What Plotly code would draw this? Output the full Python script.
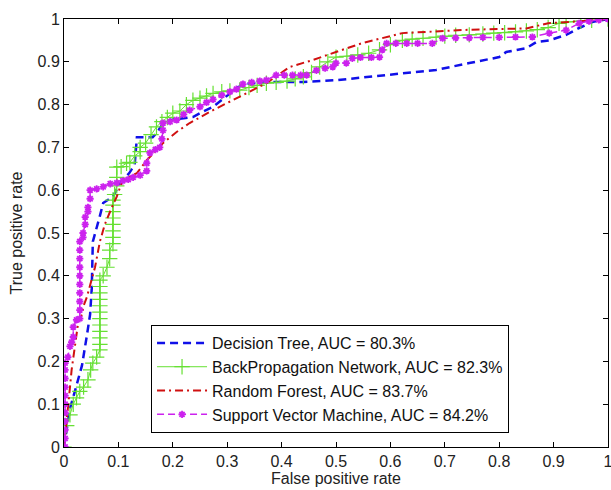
import plotly.graph_objects as go

# ---------------- data ----------------
tick_vals = [0, 0.1, 0.2, 0.3, 0.4, 0.5, 0.6, 0.7, 0.8, 0.9, 1]
tick_text = ["0", "0.1", "0.2", "0.3", "0.4", "0.5", "0.6", "0.7", "0.8", "0.9", "1"]

series_names = [
    "Decision Tree, AUC = 80.3%",
    "BackPropagation Network, AUC = 82.3%",
    "Random Forest, AUC = 83.7%",
    "Support Vector Machine, AUC = 84.2%",
]

dt_fpr = [0, 0.005, 0.011, 0.02, 0.033, 0.042, 0.048, 0.051, 0.053, 0.066, 0.072, 0.09,
          0.103, 0.12, 0.13, 0.134, 0.163, 0.172, 0.182, 0.2, 0.237, 0.25, 0.274, 0.317,
          0.33, 0.378, 0.44, 0.5, 0.561, 0.622, 0.684, 0.745, 0.80, 0.813, 0.85, 0.868,
          0.892, 0.923, 0.947, 0.971, 1]
dt_tpr = [0, 0.04, 0.09, 0.13, 0.19, 0.26, 0.31, 0.37, 0.48, 0.54, 0.57, 0.585,
          0.617, 0.64, 0.66, 0.724, 0.724, 0.736, 0.757, 0.765, 0.771, 0.78, 0.795, 0.838,
          0.848, 0.853, 0.853, 0.857, 0.865, 0.874, 0.881, 0.897, 0.911, 0.923, 0.932, 0.946,
          0.95, 0.963, 0.979, 0.993, 1]

bp_fpr = [0, 0.005, 0.011, 0.017, 0.023, 0.029, 0.036, 0.044, 0.049, 0.053, 0.06, 0.066,
          0.066, 0.066, 0.066, 0.066, 0.066, 0.066, 0.066, 0.066, 0.066, 0.066, 0.066,
          0.072, 0.079, 0.084, 0.084,
          0.09, 0.09, 0.09, 0.09, 0.09, 0.09, 0.09, 0.09,
          0.093, 0.097, 0.097, 0.097, 0.105, 0.115, 0.121, 0.13, 0.14, 0.14, 0.15, 0.16,
          0.17, 0.18, 0.19, 0.2, 0.213, 0.225, 0.237, 0.25, 0.262, 0.274, 0.29, 0.305,
          0.323, 0.34, 0.355, 0.372, 0.39, 0.41, 0.425, 0.44, 0.455, 0.47, 0.485, 0.5,
          0.52, 0.54, 0.56, 0.58, 0.6, 0.622, 0.64, 0.66, 0.684, 0.7, 0.72, 0.745, 0.77,
          0.79, 0.81, 0.83, 0.85, 0.87, 0.89, 0.91, 0.923, 0.95, 0.97, 1]
bp_tpr = [0, 0.05, 0.075, 0.1, 0.115, 0.13, 0.14, 0.157, 0.18, 0.196, 0.21, 0.227,
          0.24, 0.255, 0.27, 0.285, 0.3, 0.315, 0.33, 0.345, 0.36, 0.375, 0.39,
          0.4, 0.42, 0.44, 0.46,
          0.475, 0.49, 0.505, 0.52, 0.535, 0.55, 0.565, 0.577,
          0.59, 0.61, 0.63, 0.654, 0.655, 0.663, 0.665, 0.68, 0.69, 0.7, 0.71, 0.73,
          0.748, 0.76, 0.77, 0.78, 0.785, 0.8, 0.81, 0.815, 0.82, 0.826, 0.83, 0.832,
          0.834, 0.84, 0.845, 0.85, 0.852, 0.855, 0.86, 0.865, 0.875, 0.888, 0.9, 0.911,
          0.913, 0.916, 0.92, 0.928, 0.94, 0.95, 0.953, 0.955, 0.958, 0.96, 0.962, 0.963, 0.965,
          0.967, 0.968, 0.97, 0.972, 0.975, 0.98, 0.99, 0.993, 0.995, 0.997, 1]

rf_fpr = [0, 0.005, 0.008, 0.011, 0.014, 0.017, 0.02, 0.023, 0.026, 0.033, 0.036, 0.042,
          0.048, 0.057, 0.066, 0.075, 0.088, 0.097, 0.108, 0.134, 0.152, 0.182, 0.207,
          0.231, 0.274, 0.323, 0.372, 0.415, 0.457, 0.5, 0.549, 0.622, 0.672, 0.745, 0.85,
          0.89, 0.95, 1]
rf_tpr = [0, 0.06, 0.09, 0.14, 0.18, 0.21, 0.235, 0.27, 0.29, 0.31, 0.33, 0.35,
          0.38, 0.42, 0.48, 0.52, 0.56, 0.585, 0.624, 0.64, 0.67, 0.71, 0.736,
          0.757, 0.787, 0.818, 0.85, 0.888, 0.904, 0.923, 0.944, 0.967, 0.97, 0.975, 0.978,
          0.99, 0.995, 1]

svm_fpr = [0.002, 0.002, 0.002, 0.002, 0.002, 0.002, 0.002, 0.002, 0.002, 0.002, 0.002,
           0.007, 0.011, 0.014, 0.017, 0.017, 0.023,
           0.029, 0.029, 0.029, 0.029, 0.029, 0.029, 0.029, 0.029, 0.029, 0.029,
           0.035, 0.035, 0.039, 0.039, 0.044, 0.044, 0.048, 0.048,
           0.06, 0.072, 0.085, 0.097, 0.108, 0.118, 0.127, 0.14, 0.152, 0.152, 0.158,
           0.168, 0.176, 0.18, 0.182, 0.182, 0.195, 0.207, 0.22, 0.231, 0.25, 0.262, 0.274,
           0.29, 0.305, 0.317, 0.329, 0.345, 0.36, 0.372, 0.39, 0.405, 0.42, 0.435, 0.446,
           0.464, 0.48, 0.494, 0.5, 0.519, 0.53, 0.545, 0.565, 0.58, 0.585, 0.593, 0.61,
           0.63, 0.65, 0.677, 0.696, 0.72, 0.745, 0.77, 0.8, 0.83, 0.861, 0.892, 0.923,
           0.947, 0.965, 0.983, 1]
svm_tpr = [0, 0.02, 0.04, 0.06, 0.08, 0.1, 0.12, 0.14, 0.16, 0.18, 0.196,
           0.21, 0.235, 0.245, 0.257, 0.28, 0.297,
           0.3, 0.32, 0.34, 0.36, 0.38, 0.4, 0.42, 0.44, 0.46, 0.48,
           0.49, 0.5, 0.52, 0.537, 0.55, 0.56, 0.58, 0.6,
           0.603, 0.608, 0.615, 0.617, 0.622, 0.625, 0.63, 0.635, 0.645, 0.663, 0.687,
           0.695, 0.7, 0.72, 0.74, 0.757, 0.76, 0.764, 0.777, 0.787, 0.795, 0.805, 0.812,
           0.822, 0.83, 0.836, 0.848, 0.852, 0.855, 0.857, 0.869, 0.869, 0.869, 0.869, 0.869,
           0.88, 0.885, 0.888, 0.897, 0.897, 0.908, 0.91, 0.91, 0.911, 0.928, 0.943, 0.943,
           0.943, 0.943, 0.943, 0.955, 0.956, 0.956, 0.957, 0.957, 0.958, 0.958, 0.967, 0.974,
           0.99, 0.995, 0.998, 1]

# ---------------- figure ----------------
FONT = "Liberation Sans, Arial, sans-serif"
fig = go.Figure()

fig.add_trace(go.Scatter(
    x=dt_fpr, y=dt_tpr, mode="lines", name=series_names[0], legendgroup="a",
    line=dict(color="#1010E8", width=2.5, dash="8px,5px"),
))
fig.add_trace(go.Scatter(
    x=bp_fpr, y=bp_tpr, mode="lines+markers", name=series_names[1], legendgroup="b",
    line=dict(color="#66E033", width=1),
    marker=dict(symbol="cross-thin", size=11, color="#66E033",
                line=dict(color="#66E033", width=1.2)),
))
fig.add_trace(go.Scatter(
    x=rf_fpr, y=rf_tpr, mode="lines", name=series_names[2], legendgroup="c",
    line=dict(color="#D01010", width=2, dash="8px,4px,2px,4px"),
))
fig.add_trace(go.Scatter(
    x=svm_fpr, y=svm_tpr, mode="lines+markers", name=series_names[3], legendgroup="d",
    line=dict(color="#CC22EE", width=1.5, dash="7px,4px"),
    marker=dict(symbol="asterisk", size=6, color="#CC22EE",
                line=dict(color="#CC22EE", width=1.8)),
))

axis_common = dict(
    range=[0, 1], tickmode="array", tickvals=tick_vals, ticktext=tick_text,
    showgrid=False, zeroline=False, showline=True, linecolor="black", linewidth=1,
    mirror="ticks", ticks="inside", ticklen=5, tickcolor="black",
    ticklabeloverflow="allow",
    tickfont=dict(family=FONT, size=16, color="#222"),
)

fig.update_layout(
    width=611, height=490,
    margin=dict(l=64, r=3, t=19, b=43, autoexpand=False),
    paper_bgcolor="white", plot_bgcolor="white",
    font=dict(family=FONT, size=16, color="#222"),
    xaxis=dict(title=dict(text="False positive rate", font=dict(size=16), standoff=3),
               automargin=False, **axis_common),
    yaxis=dict(title=dict(text="True positive rate", font=dict(size=16), standoff=10),
               automargin=False, **axis_common),
    legend=dict(
        x=0.16, y=0.285, xanchor="left", yanchor="top",
        bgcolor="white", bordercolor="black", borderwidth=1,
        font=dict(family=FONT, size=16, color="#111"),
        itemwidth=50, tracegroupgap=0,
    ),
    showlegend=True,
)

fig.write_html(
    "out.html",
    config={"displayModeBar": False},
    post_script="document.body.style.margin='0';document.body.style.overflow='hidden';",
)
